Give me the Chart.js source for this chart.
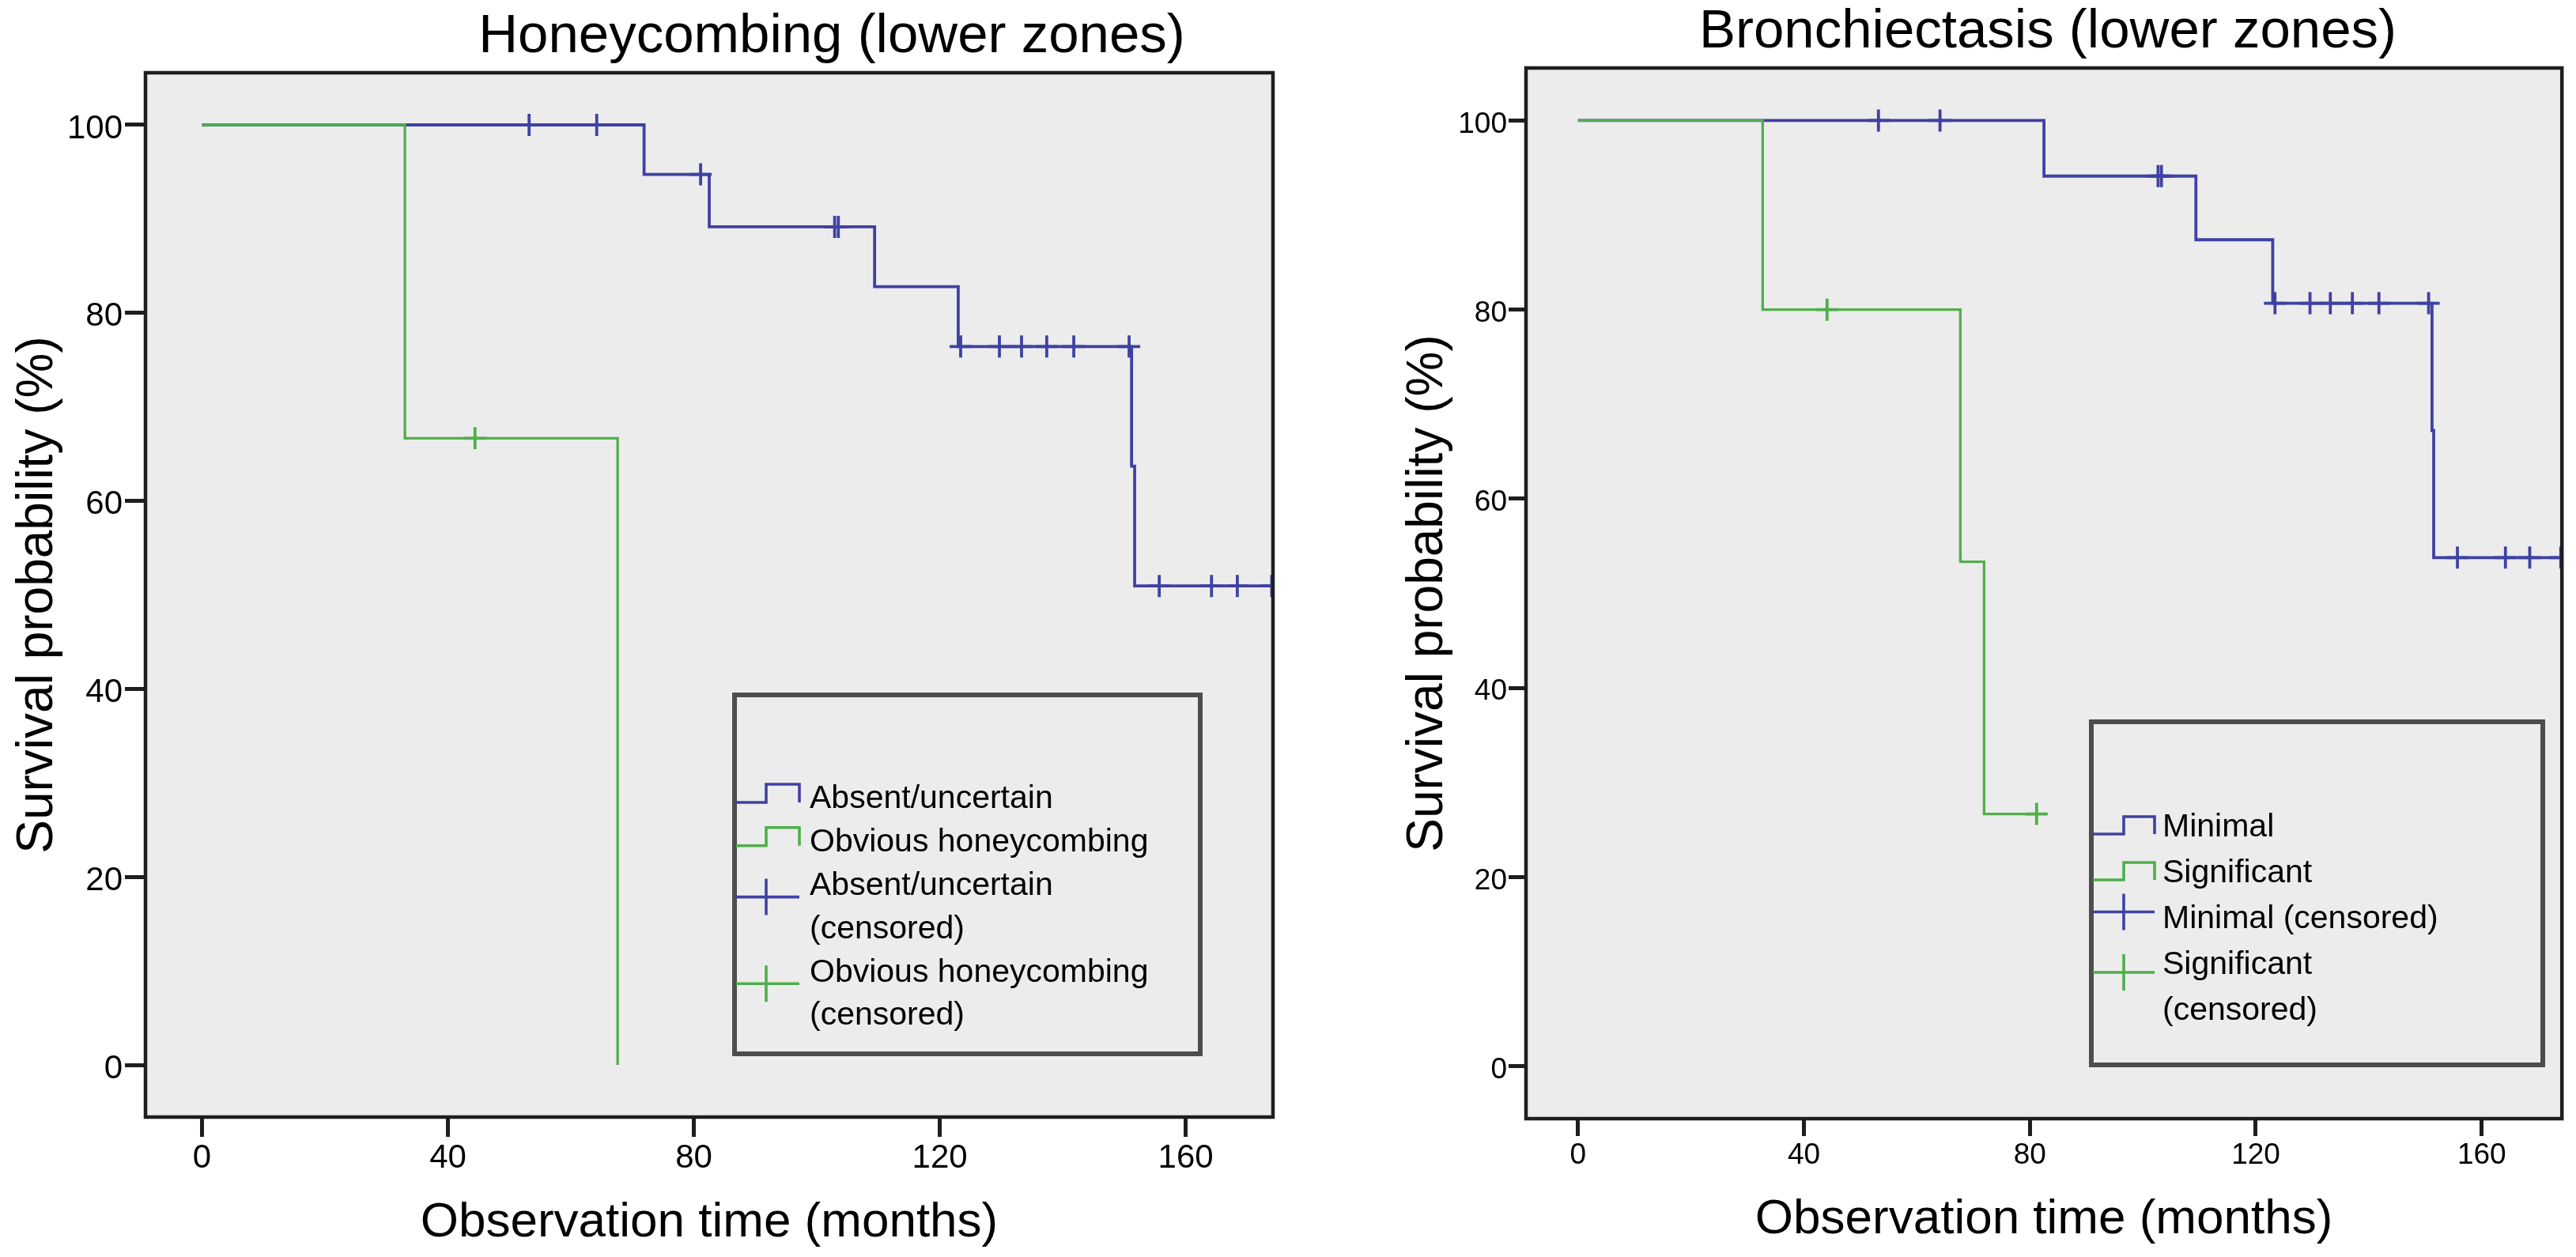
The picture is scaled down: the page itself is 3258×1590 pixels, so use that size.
<!DOCTYPE html>
<html>
<head>
<meta charset="utf-8">
<script src="https://cdn.jsdelivr.net/npm/chart.js@4.4.1/dist/chart.umd.min.js"></script>
<style>
  html, body { margin: 0; padding: 0; background: #ffffff; width: 3258px; height: 1590px; overflow: hidden; }
  .panel { position: absolute; top: 0; width: 1629px; height: 1590px; }
  #p1 { left: 0; }
  #p2 { left: 1629px; }
</style>
</head>
<body>
<div class="panel" id="p1"><canvas id="c1"></canvas></div>
<div class="panel" id="p2"><canvas id="c2"></canvas></div>
<script>
// ---------------- data ----------------
const xTicks = [0, 40, 80, 120, 160];
const yTicks = [0, 20, 40, 60, 80, 100];
const xAxisTitle = 'Observation time (months)';
const yAxisTitle = 'Survival probability (%)';

// Panel 1: Honeycombing (lower zones)
const honeyTitle = 'Honeycombing (lower zones)';
const honeyLegendLines = [
  ['Absent/uncertain'],
  ['Obvious honeycombing'],
  ['Absent/uncertain', '(censored)'],
  ['Obvious honeycombing', '(censored)']
];
const honeyAbsentTime = [0, 71.9, 82.5, 109.4, 123.0, 151.2, 151.7, 174.0];
const honeyAbsentSurv = [100, 94.74, 89.16, 82.79, 76.42, 63.69, 50.95, 50.95];
const honeyObviousTime = [0, 33.0, 67.6];
const honeyObviousSurv = [100, 66.67, 0];
const honeyAbsentCensTime = [53.2, 64.2, 81.1, 102.9, 103.5, 123.4, 129.7, 133.3, 137.4, 141.8, 150.8, 155.7, 164.2, 168.4, 174.0];
const honeyAbsentCensSurv = [100, 100, 94.74, 89.16, 89.16, 76.42, 76.42, 76.42, 76.42, 76.42, 76.42, 50.95, 50.95, 50.95, 50.95];
const honeyObviousCensTime = [44.4];
const honeyObviousCensSurv = [66.67];

// Panel 2: Bronchiectasis (lower zones)
const bronchTitle = 'Bronchiectasis (lower zones)';
const bronchLegendLines = [
  ['Minimal'],
  ['Significant'],
  ['Minimal (censored)'],
  ['Significant', '(censored)']
];
const bronchMinimalTime = [0, 82.5, 109.4, 123.0, 151.2, 151.5, 174.0];
const bronchMinimalSurv = [100, 94.12, 87.39, 80.67, 67.22, 53.78, 53.78];
const bronchSignifTime = [0, 32.7, 67.7, 71.9, 81.2];
const bronchSignifSurv = [100, 80, 53.33, 26.67, 26.67];
const bronchMinimalCensTime = [53.2, 64.1, 102.7, 103.3, 123.4, 129.6, 133.2, 137.1, 141.8, 150.6, 155.7, 164.2, 168.5, 174.0];
const bronchMinimalCensSurv = [100, 100, 94.12, 94.12, 80.67, 80.67, 80.67, 80.67, 80.67, 80.67, 53.78, 53.78, 53.78, 53.78];
const bronchSignifCensTime = [44.1, 81.2];
const bronchSignifCensSurv = [80, 26.67];

// ---------------- styling ----------------
const SANS = '"Liberation Sans", Arial, Helvetica, sans-serif';
const BLUE = '#3f41a2';
const GREEN = '#50ae4b';
const xMin = -9.2, xMax = 174.2, yMin = -5.55, yMax = 105.55;

function fontAvailable(name) {
  const ctx = document.createElement('canvas').getContext('2d');
  const s = 'Survival probability (%) mmmwwwiii';
  ctx.font = '50px monospace';
  const a = ctx.measureText(s).width;
  ctx.font = '50px "' + name + '", monospace';
  const b = ctx.measureText(s).width;
  return Math.abs(a - b) > 1;
}
const hasNarrow = fontAvailable('Liberation Sans Narrow');
const yTitleFont = hasNarrow
  ? { family: '"Liberation Sans Narrow", ' + SANS, size: 76, lineHeight: 1.1 }
  : { family: SANS, size: 64, lineHeight: 1.2 };
const yTitlePadTop = hasNarrow ? 2 : 10;

function pts(xs, ys) { return xs.map((x, i) => ({ x: x, y: ys[i] })); }

// ---------------- plugin: background, frame, title, boxed legend ----------------
const kmPlugin = {
  id: 'km',
  beforeDraw(chart, args, o) {
    const ctx = chart.ctx, a = chart.chartArea;
    ctx.save();
    ctx.fillStyle = '#ffffff';
    ctx.fillRect(0, 0, chart.width, chart.height);
    ctx.fillStyle = o.plotBg;
    ctx.fillRect(a.left, a.top, a.right - a.left, a.bottom - a.top);
    ctx.restore();
  },
  afterDraw(chart, args, o) {
    const ctx = chart.ctx, a = chart.chartArea;
    ctx.save();
    // plot frame
    ctx.strokeStyle = o.frameColor;
    ctx.lineWidth = o.frameWidth;
    ctx.strokeRect(a.left, a.top, a.right - a.left, a.bottom - a.top);
    // title
    ctx.fillStyle = '#000000';
    ctx.font = o.titleSize + 'px ' + SANS;
    ctx.textAlign = 'center';
    ctx.textBaseline = 'alphabetic';
    ctx.fillText(o.title, o.titleX, o.titleY);
    // legend
    const L = o.legend;
    ctx.strokeStyle = L.borderColor;
    ctx.lineWidth = L.borderWidth;
    ctx.strokeRect(L.left, L.top, L.right - L.left, L.bottom - L.top);
    ctx.font = L.fontSize + 'px ' + SANS;
    ctx.textAlign = 'left';
    ctx.textBaseline = 'middle';
    let y = L.top + L.firstRow;
    L.lines.forEach((lines, i) => {
      const ds = chart.data.datasets[i];
      const color = ds.borderColor;
      const x0 = L.left + L.iconL, x1 = L.left + L.iconR, xm = L.left + L.iconMid;
      ctx.strokeStyle = color;
      ctx.lineWidth = L.iconWidth;
      ctx.beginPath();
      if (ds.pointStyle === 'cross') {
        const cy = y + (lines.length === 1 ? L.crossDy1 : L.crossDy2);
        ctx.moveTo(x0, cy); ctx.lineTo(x1, cy);
        ctx.moveTo(xm, cy - L.crossHalf); ctx.lineTo(xm, cy + L.crossHalf);
      } else {
        const yl = y + L.stepLow, yh = y + L.stepHigh;
        ctx.moveTo(x0, yl); ctx.lineTo(xm, yl); ctx.lineTo(xm, yh);
        ctx.lineTo(x1, yh); ctx.lineTo(x1, yl);
      }
      ctx.stroke();
      ctx.fillStyle = '#000000';
      lines.forEach((t, k) => ctx.fillText(t, L.left + L.textX, y + k * L.rowGap));
      y += lines.length * L.rowGap;
    });
    ctx.restore();
  }
};

function lineDs(label, xs, ys, color, width, order) {
  return { label: label, data: pts(xs, ys), showLine: true, stepped: 'before', tension: 0,
           borderColor: color, backgroundColor: color, borderWidth: width, pointRadius: 0,
           pointHoverRadius: 0, fill: false, order: order };
}
function censDs(label, xs, ys, color) {
  return { label: label, data: pts(xs, ys), showLine: false, pointStyle: 'cross',
           pointRadius: 14, pointHoverRadius: 14, borderWidth: 3.8,
           borderColor: color, backgroundColor: color, order: 0 };
}

function makeChart(id, c) {
  return new Chart(document.getElementById(id), {
    type: 'scatter',
    data: { datasets: c.datasets },
    plugins: [kmPlugin],
    options: {
      responsive: true,
      maintainAspectRatio: false,
      animation: false,
      events: [],
      layout: { padding: { left: c.padL, right: c.padR, top: c.padT, bottom: 0 } },
      scales: {
        x: {
          type: 'linear', min: xMin, max: xMax,
          afterBuildTicks: s => { s.ticks = xTicks.map(v => ({ value: v })); },
          afterFit: s => { s.height = c.xAxisH; },
          border: { display: false },
          grid: { drawOnChartArea: false, drawTicks: true, tickLength: c.xTickLen, tickWidth: 5, tickColor: '#1e1e1e' },
          ticks: { color: '#000', font: { family: SANS, size: c.tickSize, lineHeight: 1.2 }, padding: c.xTickPad,
                   maxRotation: 0, autoSkip: false },
          title: { display: true, text: xAxisTitle, color: '#000',
                   font: { family: SANS, size: 62, lineHeight: 1.2 }, padding: { top: 0, bottom: c.xTitlePad } }
        },
        y: {
          type: 'linear', min: yMin, max: yMax,
          afterBuildTicks: s => { s.ticks = yTicks.map(v => ({ value: v })); },
          afterFit: s => { s.width = c.yAxisW; },
          border: { display: false },
          grid: { drawOnChartArea: false, drawTicks: true, tickLength: c.yTickLen, tickWidth: 5, tickColor: '#1e1e1e' },
          ticks: { color: '#000', font: { family: SANS, size: c.tickSize, lineHeight: 1.2 }, padding: c.yTickPad,
                   labelOffset: 5, autoSkip: false },
          title: { display: true, text: yAxisTitle, color: '#000', font: yTitleFont,
                   padding: { top: yTitlePadTop, bottom: 0 } }
        }
      },
      plugins: {
        legend: { display: false },
        tooltip: { enabled: false },
        km: c.km
      }
    }
  });
}

// Panel 1
makeChart('c1', {
  padL: 0, padR: 19, padT: 92, yAxisW: 184, xAxisH: 177,
  tickSize: 42, xTickLen: 25, yTickLen: 26, xTickPad: 2, yTickPad: 3, xTitlePad: 6,
  datasets: [
    lineDs(honeyLegendLines[0].join(' '), honeyAbsentTime, honeyAbsentSurv, BLUE, 3.8, 2),
    lineDs(honeyLegendLines[1].join(' '), honeyObviousTime, honeyObviousSurv, GREEN, 3.3, 1),
    censDs(honeyLegendLines[2].join(' '), honeyAbsentCensTime, honeyAbsentCensSurv, BLUE),
    censDs(honeyLegendLines[3].join(' '), honeyObviousCensTime, honeyObviousCensSurv, GREEN)
  ],
  km: {
    plotBg: '#ececec', frameColor: '#1e1e1e', frameWidth: 4.5,
    title: honeyTitle, titleSize: 69, titleX: 1052, titleY: 66,
    legend: {
      left: 929, top: 879, right: 1518, bottom: 1333, borderColor: '#4d4d4d', borderWidth: 6,
      fontSize: 41, firstRow: 132, rowGap: 54.8, iconL: 2, iconMid: 40, iconR: 82, textX: 95,
      iconWidth: 3.6, stepLow: 4, stepHigh: -19, crossDy1: -9.5, crossDy2: 14, crossHalf: 23,
      lines: honeyLegendLines
    }
  }
});

// Panel 2
makeChart('c2', {
  padL: 129, padR: 14, padT: 86, yAxisW: 172, xAxisH: 175,
  tickSize: 37, xTickLen: 22, yTickLen: 22, xTickPad: 3, yTickPad: 2, xTitlePad: 10,
  datasets: [
    lineDs(bronchLegendLines[0].join(' '), bronchMinimalTime, bronchMinimalSurv, BLUE, 3.8, 2),
    lineDs(bronchLegendLines[1].join(' '), bronchSignifTime, bronchSignifSurv, GREEN, 3.3, 1),
    censDs(bronchLegendLines[2].join(' '), bronchMinimalCensTime, bronchMinimalCensSurv, BLUE),
    censDs(bronchLegendLines[3].join(' '), bronchSignifCensTime, bronchSignifCensSurv, GREEN)
  ],
  km: {
    plotBg: '#ececec', frameColor: '#1e1e1e', frameWidth: 4.5,
    title: bronchTitle, titleSize: 69, titleX: 961, titleY: 60,
    legend: {
      left: 1016, top: 913, right: 1587, bottom: 1347, borderColor: '#4d4d4d', borderWidth: 6,
      fontSize: 41, firstRow: 134, rowGap: 58, iconL: 2, iconMid: 41, iconR: 80, textX: 90,
      iconWidth: 3.6, stepLow: 8, stepHigh: -14, crossDy1: -9.5, crossDy2: 9, crossHalf: 23,
      lines: bronchLegendLines
    }
  }
});
</script>
</body>
</html>
